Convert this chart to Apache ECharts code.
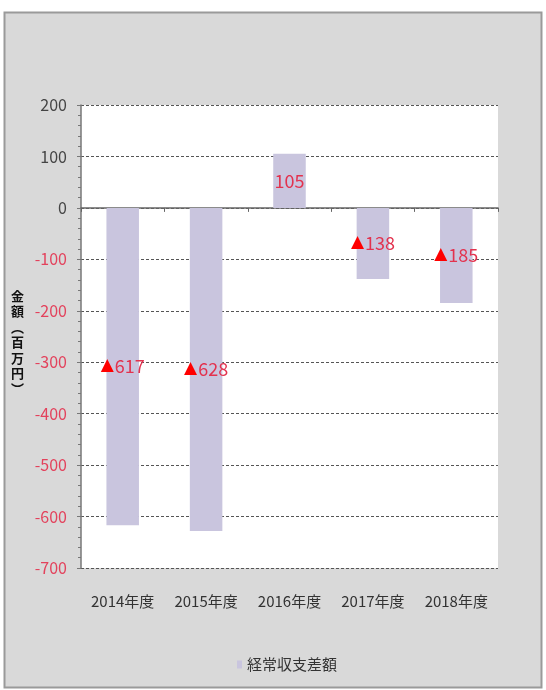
<!DOCTYPE html>
<html><head><meta charset="utf-8">
<script src="https://cdn.jsdelivr.net/npm/echarts@6/dist/echarts.min.js"></script>
<style>html,body{margin:0;padding:0;background:#fff}#c{width:546px;height:690px}</style>
</head><body><div id="c"></div>
<script>
const categories = ['2014年度','2015年度','2016年度','2017年度','2018年度'];
const values = [-617, -628, 105, -138, -185];
const seriesName = '経常収支差額';
const yAxisName = '金額︵百万円︶';
const FONT = '"Liberation Sans Narrow","Noto Sans CJK JP",sans-serif';

const chart = echarts.init(document.getElementById('c'));
chart.setOption({
  backgroundColor: 'transparent',
  animation: false,
  graphic: [{
    type: 'rect', z: -10, silent: true,
    shape: {x: 4.5, y: 12.5, width: 537, height: 675},
    style: {fill: '#d9d9d9', stroke: '#9a9a9a', lineWidth: 2}
  }, {
    type: 'text', left: 11, top: 288, silent: true,
    style: {text: yAxisName.split('').join('\n'), font: 'bold 13px "Noto Sans CJK JP"', fill: '#111', lineHeight: 15.5}
  }],
  grid: {left: 81, right: 48, top: 105, bottom: 122, show: true, backgroundColor: '#fff', borderWidth: 0},
  legend: {
    bottom: 13, left: 232, itemWidth: 5, itemHeight: 8, itemGap: 4,
    icon: 'rect',
    textStyle: {fontFamily: FONT, fontSize: 15, color: '#333'},
    data: [seriesName]
  },
  xAxis: [{
    type: 'category', data: categories, position: 'bottom',
    axisLine: {show: false, onZero: false}, axisTick: {show: false},
    axisLabel: {fontFamily: FONT, fontSize: 15, color: '#333', margin: 26}
  }, {
    type: 'category', data: categories, position: 'bottom',
    axisLine: {show: true, onZero: true, lineStyle: {color: '#666', width: 1.5}},
    axisTick: {show: true, length: 4, lineStyle: {color: '#666'}},
    axisLabel: {show: false}
  }],
  yAxis: {
    type: 'value', min: -700, max: 200, interval: 100,
    axisLine: {show: true, lineStyle: {color: '#777', width: 1.5}},
    axisTick: {show: true, length: 4, lineStyle: {color: '#777'}},
    minorTick: {show: true, splitNumber: 5, length: 3, lineStyle: {color: '#777'}},
    splitLine: {show: true, lineStyle: {color: '#555', type: [3, 2], width: 1}},
    axisLabel: {
      fontFamily: FONT, fontSize: 16, margin: 14,
      color: v => (Number(v) < 0 ? '#e3425c' : '#444')
    }
  },
  series: [{
    name: seriesName, type: 'bar', data: values, barWidth: '39%',
    itemStyle: {color: '#c9c5de'},
    label: {
      show: true, position: 'inside',
      formatter: p => p.value < 0 ? '{t|▲}{v|' + Math.abs(p.value) + '}' : '{v|' + p.value + '}',
      rich: {
        t: {color: '#f00', fontSize: 17, fontFamily: 'DejaVu Sans', padding: [0, 1, 2, 0]},
        v: {color: '#e3324e', fontSize: 18, fontFamily: FONT}
      }
    }
  }]
});
</script></body></html>
